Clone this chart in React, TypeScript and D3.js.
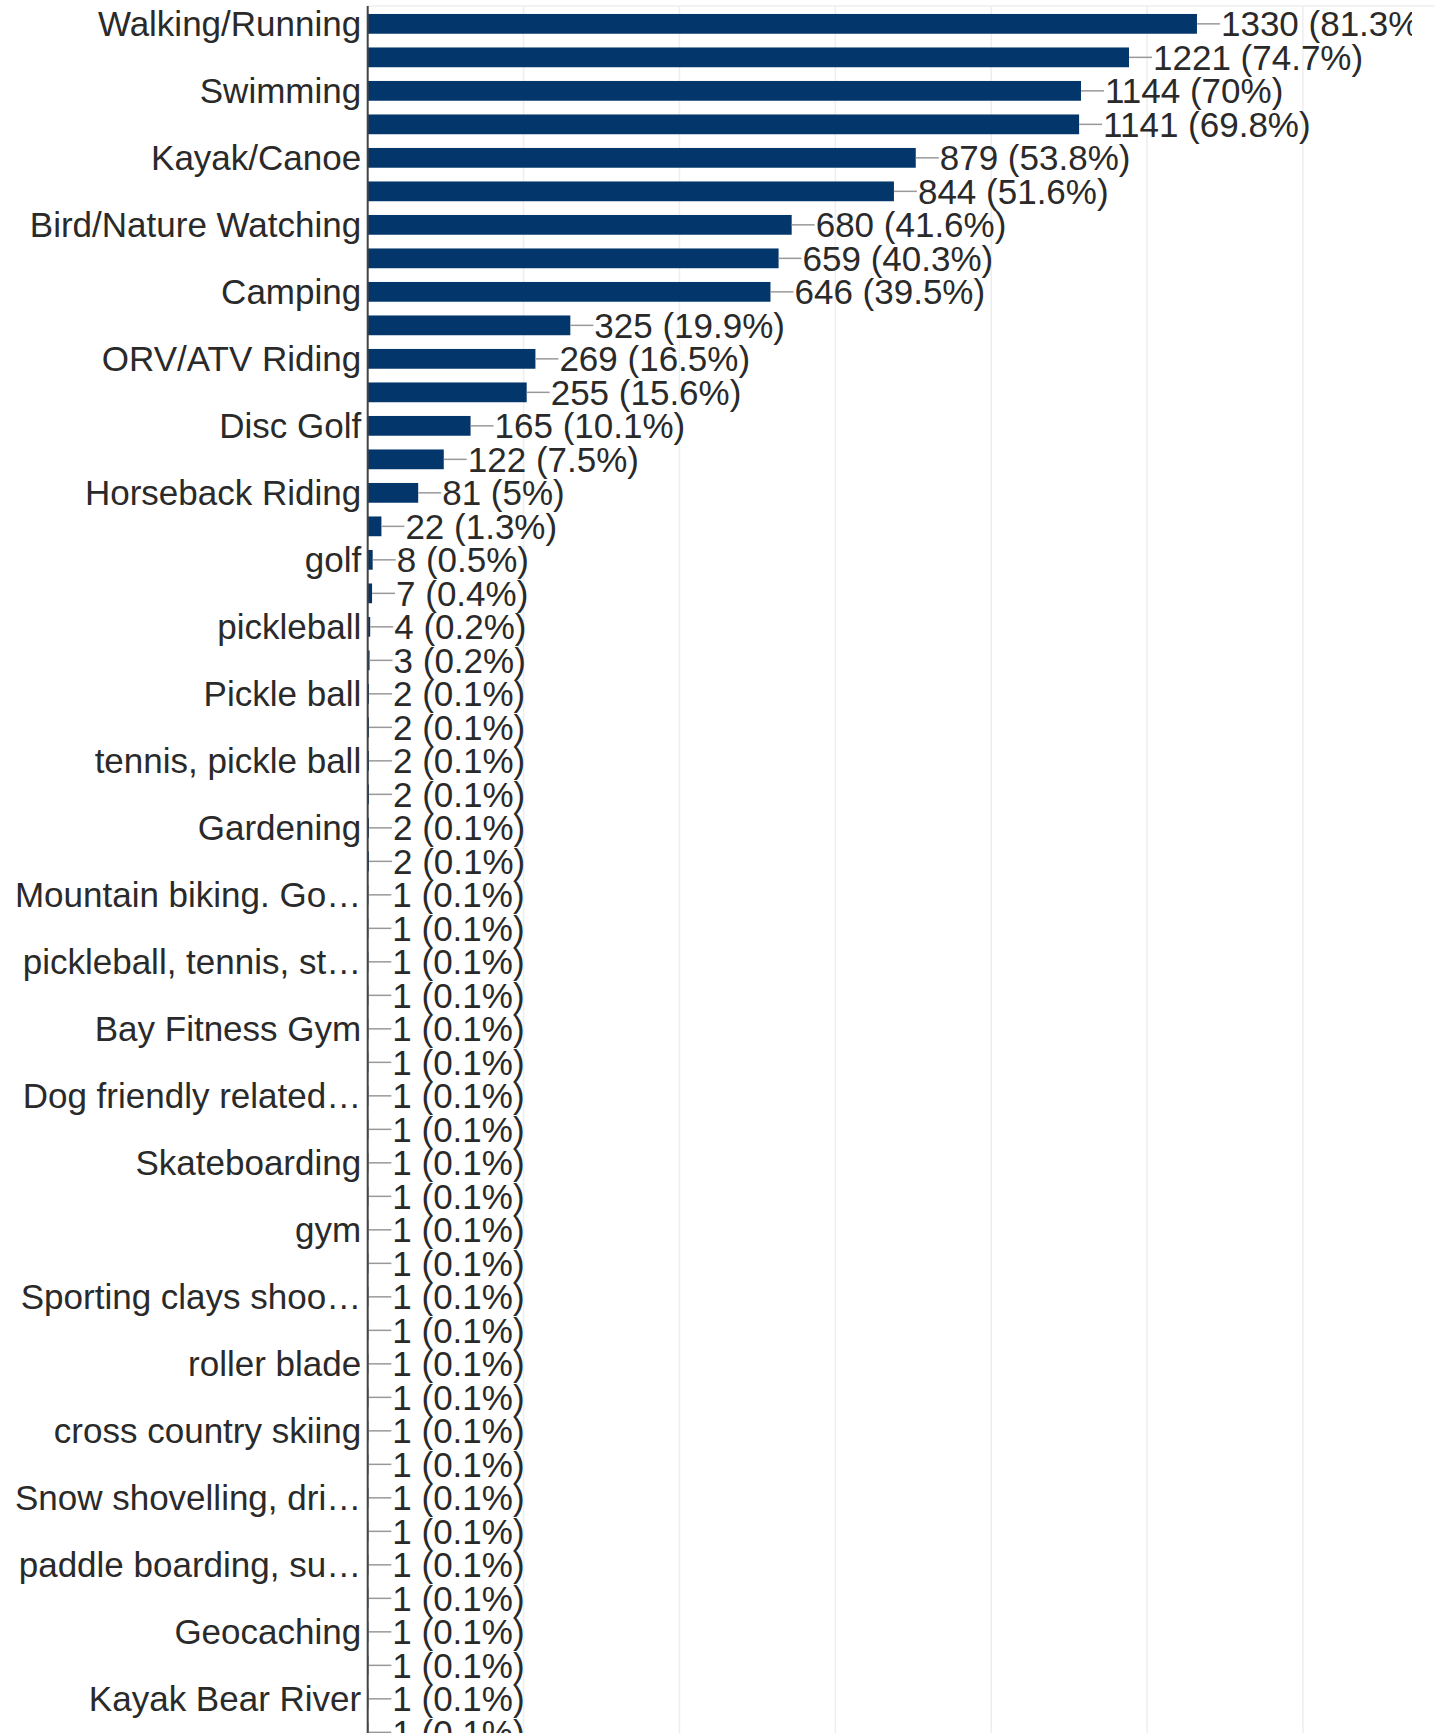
import * as d3 from 'd3';
import { useEffect, useRef } from 'react';

// Activities, in the order shown (every other label is hidden in the chart)
const categories = [
  'Walking/Running', 'Biking', 'Swimming', 'Hiking', 'Kayak/Canoe', 'Fishing',
  'Bird/Nature Watching', 'Boating', 'Camping', 'Hunting', 'ORV/ATV Riding',
  'Snowmobiling', 'Disc Golf', 'Cross Country Skiing', 'Horseback Riding',
  'Other', 'golf', 'Golf', 'pickleball', 'Pickleball', 'Pickle ball', 'tennis',
  'tennis, pickle ball', 'Tennis', 'Gardening', 'yoga',
  'Mountain biking. Go…', 'Yoga', 'pickleball, tennis, st…', 'Bowling',
  'Bay Fitness Gym', 'Hockey', 'Dog friendly related…', 'Ice skating',
  'Skateboarding', 'Snowshoeing', 'gym', 'Basketball', 'Sporting clays shoo…',
  'Archery', 'roller blade', 'Sailing', 'cross country skiing', 'Softball',
  'Snow shovelling, dri…', 'Baseball', 'paddle boarding, su…', 'Soccer',
  'Geocaching', 'Volleyball', 'Kayak Bear River', 'Photography',
];

const counts = [
  1330, 1221, 1144, 1141, 879, 844, 680, 659, 646, 325, 269, 255, 165, 122, 81,
  22, 8, 7, 4, 3, 2, 2, 2, 2, 2, 2, 1, 1, 1, 1, 1, 1, 1, 1, 1, 1, 1, 1, 1, 1,
  1, 1, 1, 1, 1, 1, 1, 1, 1, 1, 1, 1,
];

const respondents = 1635;
const gridTicks = [250, 500, 750, 1000, 1250, 1500, 1750];

export default function App() {
  const svgRef = useRef<SVGSVGElement>(null);

  useEffect(() => {
    if (!svgRef.current) return;
    const width = 1435;
    const height = 1733;
    const left = 367.7;
    const right = 1412;
    const top = 6;
    const step = 33.5;

    const svg = d3.select(svgRef.current);
    svg.selectAll('*').remove();
    svg.attr('width', width).attr('height', height);

    svg
      .append('defs')
      .append('clipPath')
      .attr('id', 'plot-clip')
      .append('rect')
      .attr('x', 0)
      .attr('y', 0)
      .attr('width', right)
      .attr('height', height);

    const x = d3.scaleLinear().domain([0, 1500]).range([left, left + 1500 * 0.6235]);
    const y = d3
      .scaleBand()
      .domain(categories)
      .range([7.1, 7.1 + categories.length * step])
      .paddingInner(0.41)
      .paddingOuter(0.205);

    const font = '"Liberation Sans", Arial, sans-serif';

    // Grid
    svg
      .append('g')
      .selectAll('line')
      .data(gridTicks)
      .join('line')
      .attr('x1', (d) => x(d))
      .attr('x2', (d) => x(d))
      .attr('y1', top)
      .attr('y2', height)
      .attr('stroke', '#eeeeee')
      .attr('stroke-width', 1.5);

    svg
      .append('line')
      .attr('x1', left)
      .attr('x2', width)
      .attr('y1', top)
      .attr('y2', top)
      .attr('stroke', '#eeeeee')
      .attr('stroke-width', 1.5);

    const rows = categories.map((c, i) => ({ cat: c, value: counts[i], i }));

    // Bars
    svg
      .append('g')
      .selectAll('rect')
      .data(rows)
      .join('rect')
      .attr('x', left)
      .attr('y', (d) => y(d.cat) ?? 0)
      .attr('width', (d) => x(d.value) - left)
      .attr('height', y.bandwidth())
      .attr('fill', '#03366a');

    // Leader lines
    svg
      .append('g')
      .selectAll('line')
      .data(rows)
      .join('line')
      .attr('x1', (d) => x(d.value))
      .attr('x2', (d) => x(d.value) + 23)
      .attr('y1', (d) => (y(d.cat) ?? 0) + y.bandwidth() / 2)
      .attr('y2', (d) => (y(d.cat) ?? 0) + y.bandwidth() / 2)
      .attr('stroke', '#999')
      .attr('stroke-width', 1.5);

    const pct = (v: number) => `${Math.round((v / respondents) * 1000) / 10}%`;

    // Value labels (clipped at the plot's right edge)
    svg
      .append('g')
      .attr('clip-path', 'url(#plot-clip)')
      .selectAll('text')
      .data(rows)
      .join('text')
      .attr('x', (d) => x(d.value) + 24)
      .attr('y', (d) => (y(d.cat) ?? 0) + y.bandwidth() / 2)
      .attr('dy', '0.35em')
      .attr('font-family', font)
      .attr('font-size', 35)
      .attr('fill', '#2a2a2a')
      .text((d) => `${d.value} (${pct(d.value)})`);

    // Category labels (every other one)
    svg
      .append('g')
      .selectAll('text')
      .data(rows.filter((d) => d.i % 2 === 0))
      .join('text')
      .attr('x', left - 6.5)
      .attr('y', (d) => (y(d.cat) ?? 0) + y.bandwidth() / 2)
      .attr('dy', '0.35em')
      .attr('text-anchor', 'end')
      .attr('font-family', font)
      .attr('font-size', 35)
      .attr('fill', '#2a2a2a')
      .text((d) => d.cat);

    // Axis line
    svg
      .append('line')
      .attr('x1', left)
      .attr('x2', left)
      .attr('y1', top)
      .attr('y2', height)
      .attr('stroke', '#444')
      .attr('stroke-width', 2);
  }, []);

  return (
    <svg
      ref={svgRef}
      style={{ position: 'absolute', left: 0, top: 0, display: 'block', background: '#fff' }}
    />
  );
}
